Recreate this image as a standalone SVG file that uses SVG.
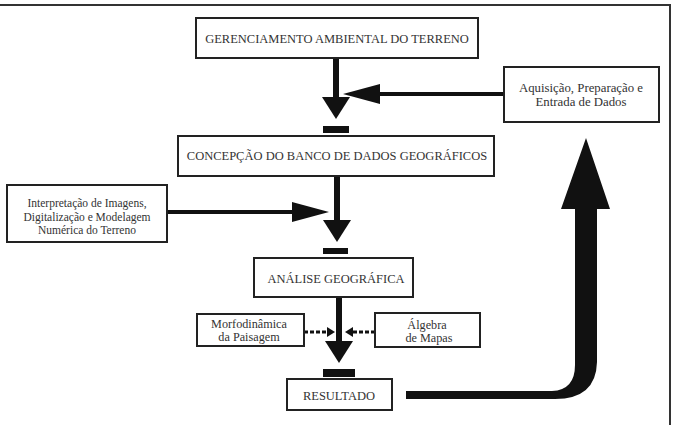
<svg xmlns="http://www.w3.org/2000/svg" width="673" height="425" viewBox="0 0 673 425">
<style>
.box{fill:#fff;stroke:#222;stroke-width:2}
.t{fill:#333;text-anchor:middle}
.cap{font-size:12.5px}
.low{font-size:11.5px}
.mid{font-size:12.2px}
.big{font-size:12.8px}
.main{stroke:#111;stroke-width:6;fill:none}
.side{stroke:#111;stroke-width:4;fill:none}
.dash{stroke:#111;stroke-width:3;fill:none;stroke-dasharray:4 2}
.bar{fill:#111}
</style>
<defs>
<marker id="hV" markerUnits="userSpaceOnUse" markerWidth="22" markerHeight="28" refX="0" refY="14" orient="auto"><path d="M0,0 L22,14 L0,28 Z" fill="#111"/></marker>
<marker id="hH" markerUnits="userSpaceOnUse" markerWidth="37" markerHeight="20" refX="0" refY="10" orient="auto"><path d="M0,0 L37,10 L0,20 Z" fill="#111"/></marker>
<marker id="hD" markerUnits="userSpaceOnUse" markerWidth="8" markerHeight="10" refX="0" refY="5" orient="auto"><path d="M0,0 L8,5 L0,10 Z" fill="#111"/></marker>
</defs>
<rect width="673" height="425" fill="#fff"/>
<path d="M0,5 H670 V425" fill="none" stroke="#333" stroke-width="2"/>

<g id="connectors">
<path class="main" d="M336,58 V97" marker-end="url(#hV)"/>
<path class="side" d="M504,94 H380" marker-end="url(#hH)"/>
<rect class="bar" x="323" y="126" width="26" height="7"/>
<path class="main" d="M337,176 V220" marker-end="url(#hV)"/>
<path class="side" d="M167,212 H292" marker-end="url(#hH)"/>
<rect class="bar" x="323" y="248" width="25" height="6"/>
<path class="main" d="M339,297 V341" marker-end="url(#hV)"/>
<path class="dash" d="M304,332 H327" marker-end="url(#hD)"/>
<path class="dash" d="M375,332 H353" marker-end="url(#hD)"/>
<rect class="bar" x="323" y="369" width="32" height="8"/>
<path d="M406,391 L552,391 Q575,390 575,365 L575,209 L561,209 L586,138 L610,209 L597,209 L597,362 Q596,399 555,399 L406,399 Z" fill="#111"/>
</g>

<g font-family="Liberation Serif, Times New Roman, serif">
<g id="gerenciamento">
<rect class="box" x="196" y="18" width="282" height="40"/>
<text class="t cap" x="337" y="43">GERENCIAMENTO AMBIENTAL DO TERRENO</text>
</g>
<g id="aquisicao">
<rect class="box" x="504" y="67" width="155" height="55"/>
<text class="t big" x="581" y="92">Aquisição, Preparação e</text>
<text class="t big" x="581" y="106">Entrada de Dados</text>
</g>
<g id="concepcao">
<rect class="box" x="178" y="136" width="316" height="40"/>
<text class="t cap" x="337" y="160">CONCEPÇÃO DO BANCO DE DADOS GEOGRÁFICOS</text>
</g>
<g id="interpretacao">
<rect class="box" x="7" y="185" width="160" height="57"/>
<text class="t low" x="87" y="207">Interpretação de Imagens,</text>
<text class="t low" x="87" y="221">Digitalização e Modelagem</text>
<text class="t low" x="87" y="234">Numérica do Terreno</text>
</g>
<g id="analise">
<rect class="box" x="254" y="258" width="159" height="39"/>
<text class="t cap" x="336" y="283">ANÁLISE GEOGRÁFICA</text>
</g>
<g id="morfodinamica">
<rect class="box" x="197" y="314" width="107" height="32"/>
<text class="t mid" x="249" y="328">Morfodinâmica</text>
<text class="t mid" x="249" y="341">da Paisagem</text>
</g>
<g id="algebra">
<rect class="box" x="375" y="313" width="105" height="34"/>
<text class="t mid" x="427" y="329">Álgebra</text>
<text class="t mid" x="429" y="342">de Mapas</text>
</g>
<g id="resultado">
<rect class="box" x="287" y="379" width="105" height="31"/>
<text class="t cap" x="339" y="400">RESULTADO</text>
</g>
</g>
</svg>
